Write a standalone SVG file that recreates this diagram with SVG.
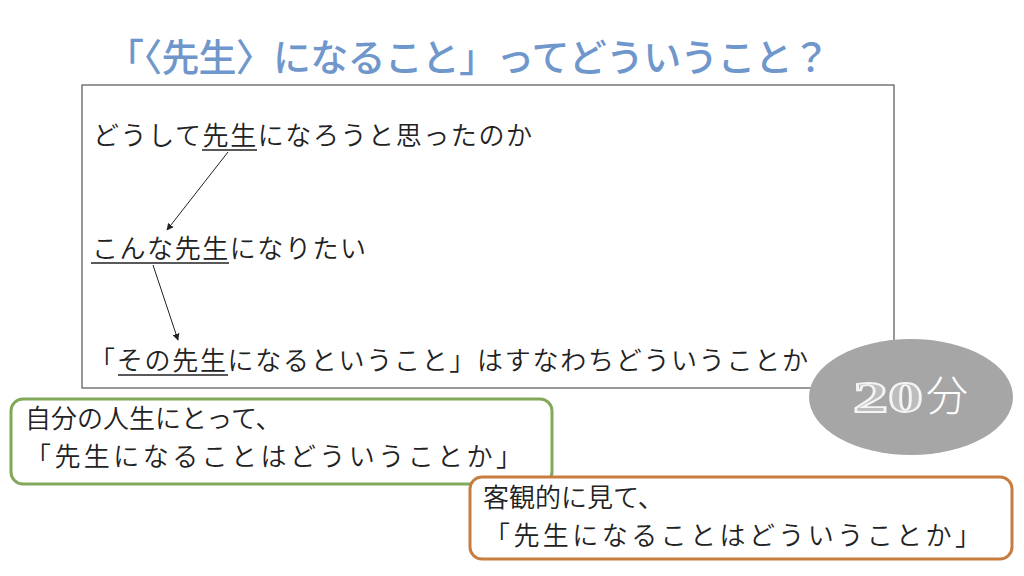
<svg xmlns="http://www.w3.org/2000/svg" width="1024" height="576" viewBox="0 0 1024 576">
<defs>
<style>
.t{font-family:"Noto Sans CJK JP","Noto Sans",sans-serif;font-size:26px;fill:#222;font-weight:350;}
.ul{stroke:#222;stroke-width:1.5;}
.conn{stroke:#222;stroke-width:1;fill:none;marker-end:url(#ah);}
</style>
<marker id="ah" viewBox="0 0 10 10" refX="9" refY="5" markerWidth="7" markerHeight="7" orient="auto-start-reverse" markerUnits="userSpaceOnUse">
<path d="M0,0 L10,5 L0,10 z" fill="#222"/>
</marker>
</defs>
<rect width="1024" height="576" fill="#ffffff"/>
<g id="title">
<text x="106" y="71" textLength="724" style="font-family:'Noto Sans CJK JP',sans-serif;font-size:38px;fill:#6f97cc;font-weight:500">「〈先生〉になること」ってどういうこと？</text>
</g>
<g id="main">
<rect x="82" y="85" width="812" height="303" fill="#fff" stroke="#555" stroke-width="1.2"/>
<text class="t" x="93" y="145" textLength="439">どうして先生になろうと思ったのか</text>
<line class="ul" x1="202" y1="150" x2="257" y2="150"/>
<text class="t" x="92" y="258" textLength="274">こんな先生になりたい</text>
<line class="ul" x1="91" y1="263" x2="229" y2="263"/>
<text class="t" x="89" y="370" textLength="719">「その先生になるということ」はすなわちどういうことか</text>
<line class="ul" x1="118" y1="375" x2="228" y2="375"/>
</g>
<g id="connectors">
<line class="conn" x1="228" y1="152" x2="167" y2="230"/>
<line class="conn" x1="153" y1="265" x2="178" y2="340"/>
</g>
<g id="timer">
<ellipse cx="911" cy="397" rx="102" ry="58" fill="#a6a6a6"/>
<text x="853" y="412" textLength="70" lengthAdjust="spacingAndGlyphs" style="font-family:'Liberation Serif',serif;font-weight:bold;font-size:44px;fill:#bdbdbd;stroke:#f4f4f4;stroke-width:1.8">20</text>
<text x="926" y="411" style="font-family:'Noto Sans CJK JP',sans-serif;font-weight:300;font-size:42px;fill:#ffffff">分</text>
</g>
<g id="personal">
<rect x="11" y="399" width="541" height="85" rx="12" fill="#fff" stroke="#82a95a" stroke-width="3"/>
<text class="t" x="25" y="428">自分の人生にとって、</text>
<text class="t" x="25" y="466" textLength="497">「先生になることはどういうことか」</text>
</g>
<g id="objective">
<rect x="470" y="477" width="542" height="82" rx="12" fill="#fff" stroke="#c87d40" stroke-width="3"/>
<text class="t" x="483" y="507">客観的に見て、</text>
<text class="t" x="484" y="545" textLength="497">「先生になることはどういうことか」</text>
</g>
</svg>
